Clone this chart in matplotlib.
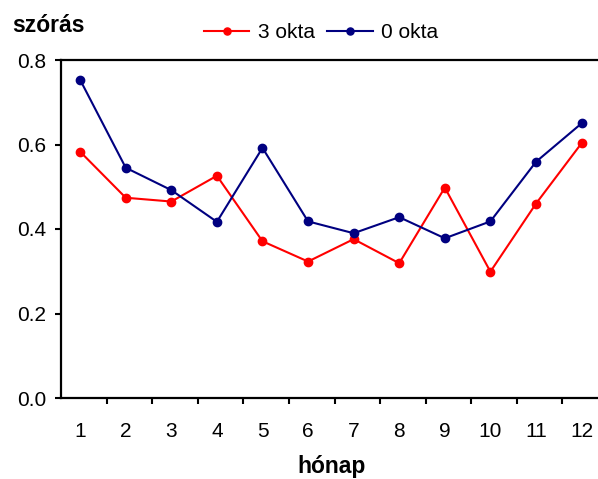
import matplotlib.pyplot as plt
import numpy as np

plt.rcParams['font.family'] = ['Liberation Sans', 'DejaVu Sans']

months = list(range(1, 13))
okta3 = [0.583, 0.474, 0.465, 0.526, 0.371, 0.323, 0.376, 0.319, 0.498, 0.299, 0.460, 0.603]
okta0 = [0.753, 0.545, 0.492, 0.417, 0.592, 0.418, 0.390, 0.428, 0.378, 0.418, 0.559, 0.650]
yticks = [0.0, 0.2, 0.4, 0.6, 0.8]

fig = plt.figure(figsize=(5.98, 4.79), dpi=100)
# plot area runs past the right edge, as in the original
ax = fig.add_axes([61/598, 81/479, 547/598, 338/479])

ax.plot(months, okta3, color='#ff0000', marker='o', markersize=6, lw=1.5, label='3 okta')
ax.plot(months, okta0, color='#000080', marker='o', markersize=6, lw=1.5, label='0 okta')

ax.set_xlim(0.58, 12.58)
ax.set_ylim(0, 0.8)
ax.set_yticks(yticks)
ax.set_yticklabels([f'{v:.1f}' for v in yticks])
ax.set_xticks(months)
ax.set_xticks(np.arange(1.58, 12.0, 1), minor=True)
ax.tick_params(axis='x', which='major', length=0, pad=17, labelsize=15)
ax.tick_params(axis='x', which='minor', length=4.5, width=1.5, direction='out')
ax.tick_params(axis='y', length=4.5, width=1.5, direction='out', labelsize=15, pad=6)

for side in ['left', 'bottom', 'top']:
    ax.spines[side].set_linewidth(1.6)
ax.spines['right'].set_visible(False)

ax.set_xlabel('hónap', fontsize=16.5, fontweight='bold', va='center')
ax.xaxis.set_label_coords(0.495, (398 - 467) / 338)
fig.text(12/598, 1 - 25/479, 'szórás', fontsize=16.5, fontweight='bold', va='center', ha='left')

fig.legend(loc='center', bbox_to_anchor=(0.537, 1 - 33/479), ncol=2, frameon=False,
           fontsize=15, handlelength=2.2, handletextpad=0.4, columnspacing=0.6,
           markerscale=0.85)

plt.savefig('out.png', dpi=100)
